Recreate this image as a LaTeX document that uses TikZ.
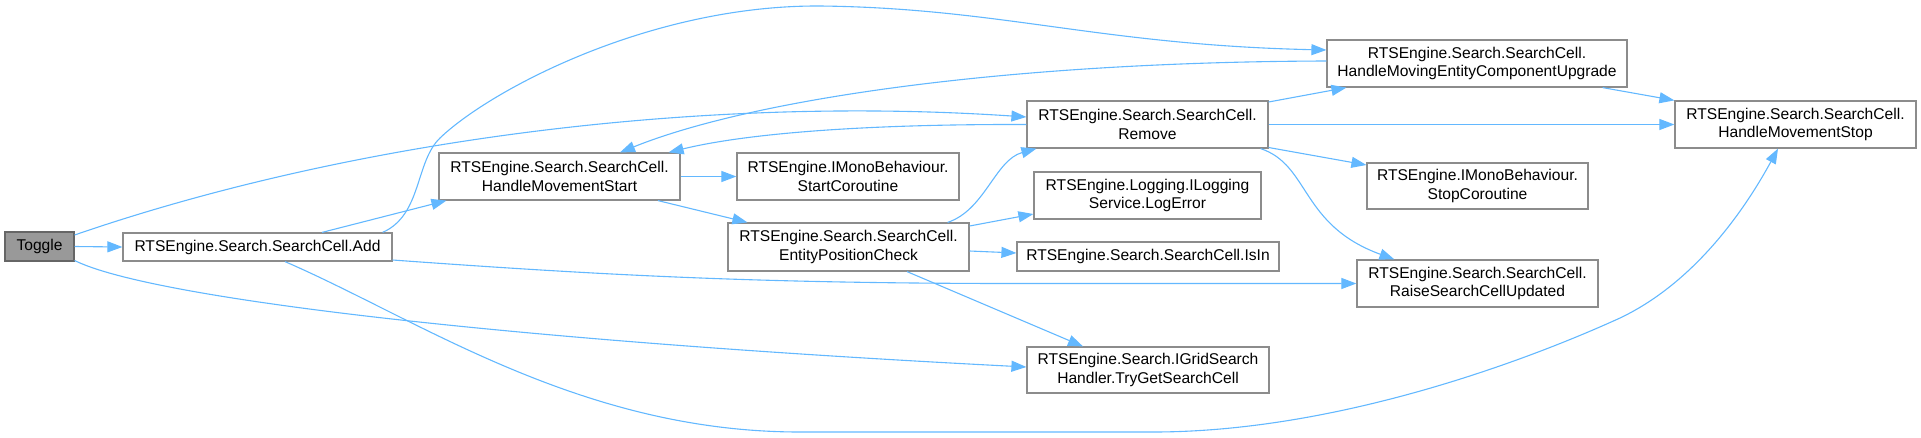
\documentclass[tikz,border=0pt]{standalone}
\usepackage{fontspec}
\setmainfont{Liberation Sans}
\usetikzlibrary{arrows.meta}
\definecolor{edgeblue}{HTML}{63B8FF}
\definecolor{boxborder}{HTML}{8C8C8C}
\definecolor{togglefill}{HTML}{999999}
\definecolor{toggleborder}{HTML}{666666}
\begin{document}
\begin{tikzpicture}[x=1pt,y=-1pt,
  fn/.style={draw=boxborder,line width=1.2pt,fill=white,rectangle,inner sep=0pt,align=center,
    font=\fontsize{15.6}{18.3}\selectfont,text=black},
  cur/.style={fn,draw=toggleborder,fill=togglefill},
  conn/.style={draw=edgeblue,line width=1.1pt,-{Triangle[length=15pt,width=11pt]}}]
\useasboundingbox (0,0) rectangle (1921,437);

% nodes
\node[cur,minimum width=69pt,minimum height=29pt] (toggle) at (39.5,246.5) {Toggle};
\node[fn,minimum width=269pt,minimum height=28pt] (add) at (257.5,247) {RTSEngine.Search.SearchCell.Add};
\node[fn,minimum width=241pt,minimum height=47pt] (hms) at (559.5,176.5) {RTSEngine.Search.SearchCell.\\HandleMovementStart};
\node[fn,minimum width=222pt,minimum height=47pt] (sc) at (848,176.5) {RTSEngine.IMonoBehaviour.\\StartCoroutine};
\node[fn,minimum width=241pt,minimum height=48pt] (epc) at (848.5,247) {RTSEngine.Search.SearchCell.\\EntityPositionCheck};
\node[fn,minimum width=300pt,minimum height=47pt] (hmecu) at (1477,63.5) {RTSEngine.Search.SearchCell.\\HandleMovingEntityComponentUpgrade};
\node[fn,minimum width=241pt,minimum height=47pt] (remove) at (1147.5,124.5) {RTSEngine.Search.SearchCell.\\Remove};
\node[fn,minimum width=221pt,minimum height=46pt] (stopc) at (1477.5,186) {RTSEngine.IMonoBehaviour.\\StopCoroutine};
\node[fn,minimum width=227pt,minimum height=47pt] (logerr) at (1147.5,195.5) {RTSEngine.Logging.ILogging\\Service.LogError};
\node[fn,minimum width=262pt,minimum height=29pt] (isin) at (1148,256.5) {RTSEngine.Search.SearchCell.IsIn};
\node[fn,minimum width=241pt,minimum height=47pt] (raise) at (1477.5,283.5) {RTSEngine.Search.SearchCell.\\RaiseSearchCellUpdated};
\node[fn,minimum width=241pt,minimum height=47pt] (hmstop) at (1795.5,124.5) {RTSEngine.Search.SearchCell.\\HandleMovementStop};
\node[fn,minimum width=242pt,minimum height=46pt] (tryget) at (1148,370) {RTSEngine.Search.IGridSearch\\Handler.TryGetSearchCell};

% edges from Toggle
\draw[conn] (toggle.east) -- (add.west);
\draw[conn] ([yshift=11.5pt]toggle.east) .. controls (350,140) and (700,95) .. ([yshift=7.5pt]remove.west);
\draw[conn] ([yshift=-14pt]toggle.east) .. controls (150,298) and (500,340) .. ([yshift=3pt]tryget.west);

% edges from Add
\draw[conn] ([xshift=64.5pt]add.north) -- ([xshift=8pt]hms.south west);
\draw[conn] ([xshift=-10pt]add.north east) .. controls (422,215) and (415,162) .. (440,138)
  .. controls (490,90) and (650,5) .. (820,6)
  .. controls (1000,8) and (1100,45) .. ([yshift=13.5pt]hmecu.west);
\draw[conn] ([yshift=-13pt]add.east) .. controls (600,275) and (750,283) .. (1000,283.5) -- (raise.west);
\draw[conn] ([xshift=27.5pt]add.south) .. controls (420,320) and (580,432) .. (800,432)
  -- (1153,432) .. controls (1350,432) and (1550,350) .. (1620,318)
  .. controls (1700,280) and (1750,200) .. ([xshift=-17.5pt]hmstop.south);

% edges from HandleMovementStart
\draw[conn] (hms.east) -- (sc.west);
\draw[conn] ([xshift=98.5pt]hms.south) -- ([xshift=20pt]epc.north west);

% edges from EntityPositionCheck
\draw[conn] ([xshift=-22pt]epc.north east) .. controls (985,210) and (995,160) .. ([xshift=10pt]remove.south west);
\draw[conn] ([yshift=21pt]epc.east) -- ([yshift=-18.5pt]logerr.west);
\draw[conn] ([yshift=-4pt]epc.east) -- ([yshift=3.5pt]isin.west);
\draw[conn] ([xshift=58.5pt]epc.south) -- ([xshift=-65pt]tryget.north);

% edges from Remove
\draw[conn] (remove.west) .. controls (850,124) and (740,135) .. ([xshift=-12pt]hms.north east);
\draw[conn] ([yshift=22.5pt]remove.east) -- ([xshift=20pt]hmecu.south west);
\draw[conn] (remove.east) -- (hmstop.west);
\draw[conn] ([yshift=-23pt]remove.east) -- ([yshift=21pt]stopc.west);
\draw[conn] ([xshift=-8pt]remove.south east) .. controls (1310,165) and (1300,225) .. ([xshift=38pt]raise.north west);

% edges from HandleMovingEntityComponentUpgrade
\draw[conn] ([yshift=2.5pt]hmecu.west) .. controls (1000,62) and (750,100) .. ([xshift=60.5pt]hms.north);
\draw[conn] ([xshift=-25pt]hmecu.south east) -- (hmstop.north west);
\end{tikzpicture}
\end{document}
